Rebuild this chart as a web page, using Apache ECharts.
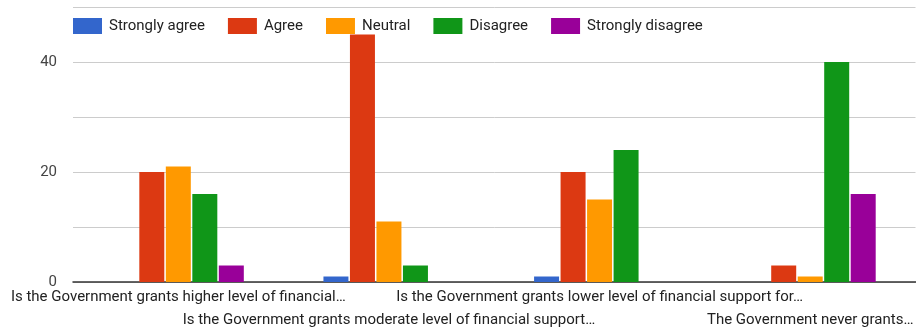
<!DOCTYPE html>
<html>
<head>
<meta charset="utf-8">
<script src="https://cdn.jsdelivr.net/npm/echarts@6/dist/echarts.min.js"></script>
<style>
  html, body { margin: 0; padding: 0; background: #fff; }
  #chart { width: 916px; height: 332px; }
</style>
</head>
<body>
<div id="chart"></div>
<script type="text/javascript">
// questions (x categories), as shortened on the chart
var questions = [
    'Is the Government grants higher level of financial…',
    'Is the Government grants moderate level of financial support…',
    'Is the Government grants lower level of financial support for…',
    'The Government never grants…'
];

// answer counts per question
var stronglyAgree    = [0, 1, 1, 0];
var agree            = [20, 45, 20, 3];
var neutral          = [21, 11, 15, 1];
var disagree         = [16, 3, 24, 40];
var stronglyDisagree = [3, 0, 0, 16];

var seriesNames  = ['Strongly agree', 'Agree', 'Neutral', 'Disagree', 'Strongly disagree'];
var seriesColors = ['#3366cc', '#dc3912', '#ff9900', '#109618', '#990099'];
var seriesData   = [stronglyAgree, agree, neutral, disagree, stronglyDisagree];

var series = [];
for (var i = 0; i < seriesNames.length; i++) {
    series.push({
        name: seriesNames[i],
        type: 'bar',
        barWidth: 25,
        barGap: '6%',
        itemStyle: { color: seriesColors[i] },
        data: seriesData[i]
    });
}

var chart = echarts.init(document.getElementById('chart'));
chart.setOption({
    animation: false,
    textStyle: { fontFamily: 'Roboto' },
    legend: {
        left: 73,
        top: 18,
        padding: 0,
        itemWidth: 29,
        itemHeight: 16,
        itemGap: 23,
        icon: 'rect',
        textStyle: { fontSize: 15, color: '#222', padding: [0, 0, 0, 2] },
        data: seriesNames
    },
    grid: { left: 73, right: -3, top: 7, bottom: 48 },
    xAxis: {
        type: 'category',
        data: questions,
        axisTick: { show: false },
        axisLine: { lineStyle: { color: '#333', width: 1.5 } },
        axisLabel: {
            interval: 0,
            hideOverlap: false,
            fontSize: 15,
            color: '#222',
            margin: 4,
            lineHeight: 23,
            formatter: function (v, idx) { return idx % 2 ? '\n' + v : v; }
        }
    },
    yAxis: {
        type: 'value',
        min: 0,
        max: 50,
        interval: 10,
        axisLine: { show: false },
        axisTick: { show: false },
        splitLine: { lineStyle: { color: '#cccccc' } },
        axisLabel: {
            fontSize: 15,
            color: '#444',
            margin: 16,
            formatter: function (v) { return (v % 20 === 0 && v < 50) ? v : ''; }
        }
    },
    series: series
});
</script>
</body>
</html>
